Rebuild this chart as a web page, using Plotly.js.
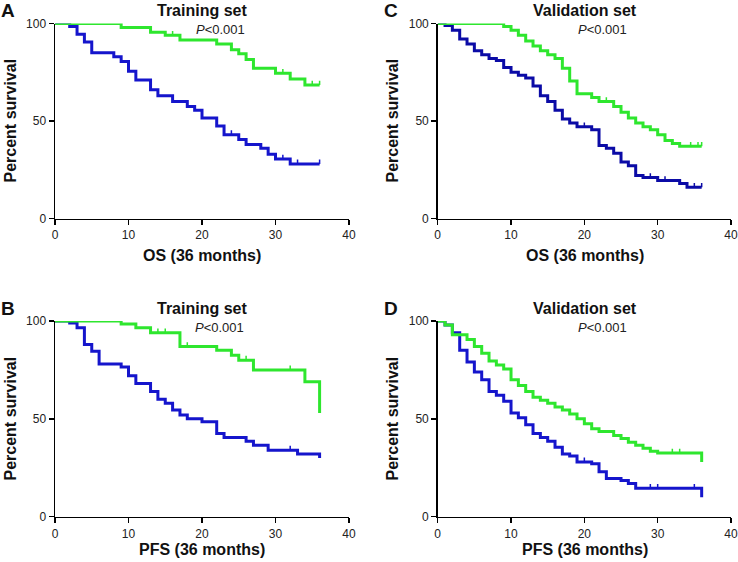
<!DOCTYPE html>
<html>
<head>
<meta charset="utf-8">
<script src="https://cdn.plot.ly/plotly-3.0.1.min.js"></script>
<style>
  html, body { margin: 0; padding: 0; background: #fff; }
  #chart { width: 738px; height: 562px; }
</style>
</head>
<body>
<div id="chart"></div>
<script>
// Kaplan-Meier step data (time in months, percent survival)
// Panel A - training set, OS
const aGreenT = [0, 9, 13, 15, 17, 22, 24, 25, 26, 27, 30, 32, 34, 36];
const aGreenS = [100, 98, 95.5, 94, 91.5, 89.5, 86.5, 84.5, 81.5, 77, 74.5, 71.5, 68.5, 68.5];
const aGreenC = [16, 17, 31, 35, 36];
const aBlueT = [0, 2, 3, 4, 5, 8, 9, 10, 11, 13, 14, 16, 18, 19, 20, 22, 23, 25, 26, 28, 29, 30, 32, 36];
const aBlueS = [100, 98.5, 94.5, 90.5, 85, 83, 80.5, 75.5, 71, 66, 63, 60, 57.5, 55.5, 51.5, 47.5, 43, 40.5, 38, 36, 33, 30.5, 28, 28];
const aBlueC = [24, 31, 33, 36];

// Panel C - validation set, OS
const cGreenT = [0, 9, 10, 11, 12, 13, 14, 15, 16, 17, 18, 19, 21, 22, 24, 25, 26, 27, 28, 29, 30, 31, 32, 33, 36];
const cGreenS = [100, 98.5, 96.5, 94, 91, 88.5, 86, 84, 82, 77, 70.5, 64, 62, 60, 57.5, 54.5, 51.5, 49, 47, 45.5, 43, 40, 38.5, 37, 37];
const cGreenC = [23, 34.5, 35.5, 36];
const cBlueT = [0, 1, 2, 3, 4, 5, 6, 7, 8, 9, 10, 11, 12, 13, 14, 15, 16, 17, 18, 19, 21, 22, 23, 24, 25, 26, 27, 28, 30, 33, 34, 36];
const cBlueS = [100, 99, 96.5, 92, 89.5, 86, 84, 82, 81, 77.5, 75, 73.5, 72, 68, 63, 60, 55.5, 51, 49, 47, 45.5, 37.5, 36, 33.5, 29, 27, 22, 21, 19.5, 18, 16, 16];
const cBlueC = [20, 29, 31, 35, 36];

// Panel B - training set, PFS
const bGreenT = [0, 9, 11, 13, 17, 22, 24, 25, 27, 34, 36];
const bGreenS = [100, 98.5, 96.5, 94, 87, 85, 82.5, 80, 75, 69, 53];
const bGreenC = [14, 15, 18, 26, 32];
const bBlueT = [0, 2, 3, 4, 5, 6, 9, 10, 11, 13, 14, 15, 16, 17, 18, 20, 22, 23, 26, 27, 29, 33, 36];
const bBlueS = [100, 99, 96.5, 88, 84.5, 78, 76.5, 72, 68, 64, 60, 58, 54.5, 52, 50, 48.5, 42.5, 40.5, 38.5, 36.5, 34, 32, 30];
const bBlueC = [32];

// Panel D - validation set, PFS
const dGreenT = [0, 1, 2, 4, 5, 6, 7, 8, 9, 10, 11, 12, 13, 14, 15, 16, 17, 18, 19, 20, 21, 22, 24, 25, 26, 27, 28, 29, 30, 36];
const dGreenS = [100, 98, 93, 90.5, 87, 83.5, 79.5, 77.5, 75.5, 70, 67, 64, 61, 59.5, 58, 56, 54.5, 52.5, 50, 47.5, 45, 43.5, 41.5, 40, 38, 36.5, 35, 33.5, 32.5, 28];
const dGreenC = [32, 33];
const dBlueT = [0, 1, 2, 3, 4, 5, 6, 7, 8, 9, 10, 11, 12, 13, 14, 15, 16, 17, 18, 19, 21, 22, 23, 25, 26, 27, 36];
const dBlueS = [100, 98, 94, 85, 79, 74, 70, 64, 62, 59, 53, 50.5, 47, 42.5, 40.5, 38.5, 35.5, 32, 31, 28, 27, 23, 19.5, 18.5, 17, 14.5, 10];
const dBlueC = [20, 29, 30, 35];

const panelLetters = ['A', 'C', 'B', 'D'];
const panelTitles = ['Training set', 'Validation set', 'Training set', 'Validation set'];
const xTitles = ['OS (36 months)', 'OS (36 months)', 'PFS (36 months)', 'PFS (36 months)'];
const yTitle = 'Percent survival';
const pText = '<i>P</i>&lt;0.001';
const xTicks = [0, 10, 20, 30, 40];
const yTicks = [0, 50, 100];

const GREEN = '#2ee62e';
const BLUE = '#1515cc';
const NAVY = '#0b0ba6';
const FONT = 'Arial, "Liberation Sans", sans-serif';

// survival value of a step curve at time t
function stepAt(T, S, t) {
    let v = S[0];
    for (let i = 0; i < T.length; i++) {
        if (T[i] <= t) v = S[i];
    }
    return v;
}

function curve(T, S, color, xa, ya) {
    return {
        x: T, y: S, xaxis: xa, yaxis: ya,
        mode: 'lines',
        line: {color: color, width: 3, shape: 'hv'},
        hoverinfo: 'skip'
    };
}

// censor marks drawn as small upward ticks
function censors(T, S, C, color, xa, ya) {
    return {
        x: C, y: C.map(t => stepAt(T, S, t)), xaxis: xa, yaxis: ya,
        mode: 'markers',
        marker: {size: 1, opacity: 0},
        error_y: {type: 'data', symmetric: false, array: C.map(() => 2.2), arrayminus: C.map(() => 0),
                  width: 0, thickness: 1.5, color: color},
        hoverinfo: 'skip'
    };
}

const data = [
    curve(aBlueT, aBlueS, BLUE, 'x', 'y'),
    censors(aBlueT, aBlueS, aBlueC, BLUE, 'x', 'y'),
    curve(aGreenT, aGreenS, GREEN, 'x', 'y'),
    censors(aGreenT, aGreenS, aGreenC, GREEN, 'x', 'y'),

    curve(cBlueT, cBlueS, NAVY, 'x2', 'y2'),
    censors(cBlueT, cBlueS, cBlueC, NAVY, 'x2', 'y2'),
    curve(cGreenT, cGreenS, GREEN, 'x2', 'y2'),
    censors(cGreenT, cGreenS, cGreenC, GREEN, 'x2', 'y2'),

    curve(bBlueT, bBlueS, BLUE, 'x3', 'y3'),
    censors(bBlueT, bBlueS, bBlueC, BLUE, 'x3', 'y3'),
    curve(bGreenT, bGreenS, GREEN, 'x3', 'y3'),
    censors(bGreenT, bGreenS, bGreenC, GREEN, 'x3', 'y3'),

    curve(dBlueT, dBlueS, BLUE, 'x4', 'y4'),
    censors(dBlueT, dBlueS, dBlueC, BLUE, 'x4', 'y4'),
    curve(dGreenT, dGreenS, GREEN, 'x4', 'y4'),
    censors(dGreenT, dGreenS, dGreenC, GREEN, 'x4', 'y4')
];

const W = 738, H = 562;
const px = v => v / W;
const py = v => 1 - v / H;

function xAxis(dom, anchor) {
    return {
        domain: dom, anchor: anchor, range: [0, 40],
        tickvals: xTicks, ticks: 'outside', ticklen: 5, tickwidth: 1.5, tickcolor: '#000',
        showline: true, linecolor: '#000', linewidth: 1.5,
        showgrid: false, zeroline: false, fixedrange: true,
        tickfont: {family: FONT, size: 12, color: '#222'}
    };
}
function yAxis(dom, anchor) {
    return {
        domain: dom, anchor: anchor, range: [0, 100],
        tickvals: yTicks, ticks: 'outside', ticklen: 5, tickwidth: 1.5, tickcolor: '#000',
        showline: true, linecolor: '#000', linewidth: 1.5,
        showgrid: false, zeroline: false, fixedrange: true,
        tickfont: {family: FONT, size: 12, color: '#222'}
    };
}

const leftX = [px(55), px(349)];
const rightX = [px(437.7), px(731)];
const topY = [py(218.5), py(23.5)];
const botY = [py(516.7), py(321)];

// text positions per panel (pixel centres): A, C, B, D
const cx = [202, 585, 202, 585];
const letterX = [8, 391, 8, 391];
const yTitleX = [9.5, 391.5, 9.5, 391.5];
const titleY = [10, 10, 308, 308];
const pX = [220, 602, 219, 602];
const pY = [29, 29, 327, 327];
const plotMidY = [121, 121, 419, 419];
const xTitleY = [255, 255, 549, 549];

const annotations = [];
for (let i = 0; i < 4; i++) {
    const base = {xref: 'paper', yref: 'paper', showarrow: false, xanchor: 'center', yanchor: 'middle'};
    annotations.push(Object.assign({}, base, {
        x: px(letterX[i]), y: py(titleY[i]), text: '<b>' + panelLetters[i] + '</b>',
        font: {family: FONT, size: 19, color: '#111'}
    }));
    annotations.push(Object.assign({}, base, {
        x: px(cx[i]), y: py(titleY[i]), text: '<b>' + panelTitles[i] + '</b>',
        font: {family: FONT, size: 16, color: '#111'}
    }));
    annotations.push(Object.assign({}, base, {
        x: px(pX[i]), y: py(pY[i]), text: pText,
        font: {family: FONT, size: 13, color: '#222'}
    }));
    annotations.push(Object.assign({}, base, {
        x: px(yTitleX[i]), y: py(plotMidY[i]), text: '<b>' + yTitle + '</b>', textangle: -90,
        font: {family: FONT, size: 16, color: '#111'}
    }));
    annotations.push(Object.assign({}, base, {
        x: px(cx[i]), y: py(xTitleY[i]), text: '<b>' + xTitles[i] + '</b>',
        font: {family: FONT, size: 16, color: '#111'}
    }));
}

const layout = {
    width: W, height: H,
    margin: {l: 0, r: 0, t: 0, b: 0},
    paper_bgcolor: '#fff', plot_bgcolor: '#fff',
    showlegend: false,
    font: {family: FONT},
    xaxis: xAxis(leftX, 'y'), yaxis: yAxis(topY, 'x'),
    xaxis2: xAxis(rightX, 'y2'), yaxis2: yAxis(topY, 'x2'),
    xaxis3: xAxis(leftX, 'y3'), yaxis3: yAxis(botY, 'x3'),
    xaxis4: xAxis(rightX, 'y4'), yaxis4: yAxis(botY, 'x4'),
    annotations: annotations
};

Plotly.newPlot('chart', data, layout, {displayModeBar: false, staticPlot: true});
</script>
</body>
</html>
